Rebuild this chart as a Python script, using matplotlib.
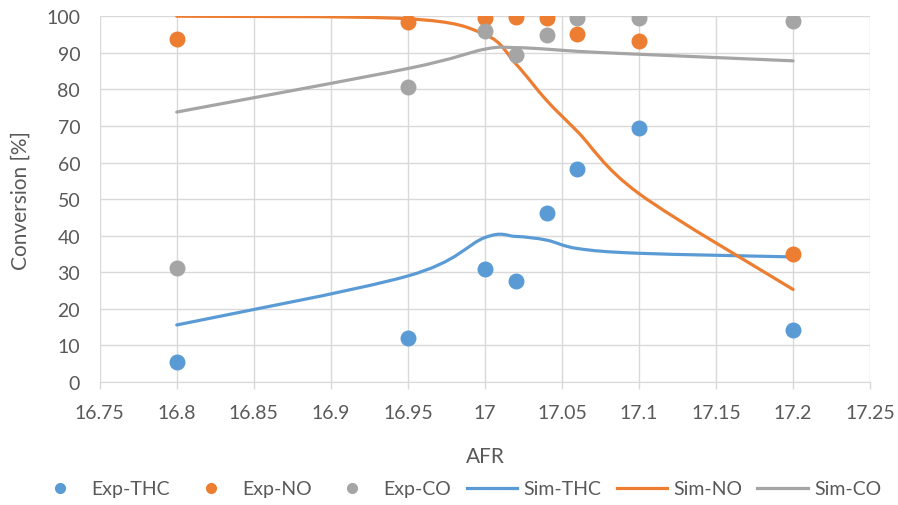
import numpy as np
import matplotlib.pyplot as plt
from matplotlib.path import Path
from matplotlib.patches import PathPatch
from matplotlib.lines import Line2D

plt.rcParams['font.family'] = ['Lato', 'DejaVu Sans']

# experimental data
afr = [16.8, 16.95, 17.0, 17.02, 17.04, 17.06, 17.1, 17.2]
exp_thc = [5.5, 12, 30.8, 27.7, 46.2, 58.2, 69.5, 14.2]
exp_no = [93.8, 98.4, 99.5, 99.8, 99.5, 95.2, 93.1, 35]
exp_co = [31.2, 80.6, 95.9, 89.3, 94.9, 99.5, 99.5, 98.7]

# simulated data
sim_afr = [16.8, 16.95, 17.0, 17.02, 17.04, 17.06, 17.1, 17.2]
sim_thc = [15.6, 29, 39.5, 39.8, 38.8, 36.5, 35.2, 34.2]
sim_no = [100, 99.3, 95, 87, 77, 68.5, 51.5, 25.3]
sim_co = [73.8, 85.7, 91, 91.4, 91, 90.4, 89.6, 87.8]

blue = '#5B9BD5'
orange = '#ED7D31'
gray = '#A5A5A5'
txt = '#595959'


def smooth_path(x, y):
    # excel-like smoothed line: cubic bezier segments (catmull-rom)
    x = np.asarray(x, float)
    y = np.asarray(y, float)
    n = len(x)
    verts = [(x[0], y[0])]
    codes = [Path.MOVETO]
    for i in range(n - 1):
        i0 = max(i - 1, 0)
        i3 = min(i + 2, n - 1)
        c1 = (x[i] + (x[i + 1] - x[i0]) / 6, y[i] + (y[i + 1] - y[i0]) / 6)
        c2 = (x[i + 1] - (x[i3] - x[i]) / 6, y[i + 1] - (y[i3] - y[i]) / 6)
        verts += [c1, c2, (x[i + 1], y[i + 1])]
        codes += [Path.CURVE4] * 3
    return Path(verts, codes)


fig = plt.figure(figsize=(8.98, 5.06), dpi=100)
ax = fig.add_axes([0.111, 0.243, 0.858, 0.723])

ax.scatter(afr, exp_thc, s=110, color=blue, zorder=3)
ax.scatter(afr, exp_no, s=110, color=orange, zorder=3)
ax.scatter(afr, exp_co, s=110, color=gray, zorder=3)

for yy, c in [(sim_thc, blue), (sim_no, orange), (sim_co, gray)]:
    ax.add_patch(PathPatch(smooth_path(sim_afr, yy), fill=False, edgecolor=c,
                           lw=2.3, capstyle='round', zorder=2))

ax.set_xlim(16.75, 17.25)
ax.set_ylim(0, 100)
ax.set_xticks(np.arange(16.75, 17.26, 0.05))
ax.set_xticklabels(['16.75', '16.8', '16.85', '16.9', '16.95', '17', '17.05',
                    '17.1', '17.15', '17.2', '17.25'])
ax.set_yticks(range(0, 101, 10))
ax.grid(True, color='#d9d9d9', lw=1)
ax.set_axisbelow(True)
for s in ['top', 'right', 'left']:
    ax.spines[s].set_visible(False)
ax.spines['bottom'].set_color('#d9d9d9')
ax.tick_params(axis='x', colors='#d9d9d9', labelcolor=txt, labelsize=14,
               length=5, width=1, pad=11)
ax.tick_params(axis='y', length=0, labelcolor=txt, labelsize=14, pad=14)
ax.set_xlabel('AFR', fontsize=15, color=txt, labelpad=18)
ax.set_ylabel('Conversion [%]', fontsize=15, color=txt, labelpad=11)

handles = [
    Line2D([], [], ls='none', marker='o', ms=7, color=blue, label='Exp-THC'),
    Line2D([], [], ls='none', marker='o', ms=7, color=orange, label='Exp-NO'),
    Line2D([], [], ls='none', marker='o', ms=7, color=gray, label='Exp-CO'),
    Line2D([], [], lw=2.3, color=blue, label='Sim-THC'),
    Line2D([], [], lw=2.3, color=orange, label='Sim-NO'),
    Line2D([], [], lw=2.3, color=gray, label='Sim-CO'),
]
leg = fig.legend(handles=handles, loc='center', bbox_to_anchor=(0.51, 0.032),
                 ncol=6, frameon=False, fontsize=14, handlelength=2.6,
                 handletextpad=0.3, columnspacing=0.8)
for t in leg.get_texts():
    t.set_color(txt)

fig.savefig('out.png', dpi=100)
